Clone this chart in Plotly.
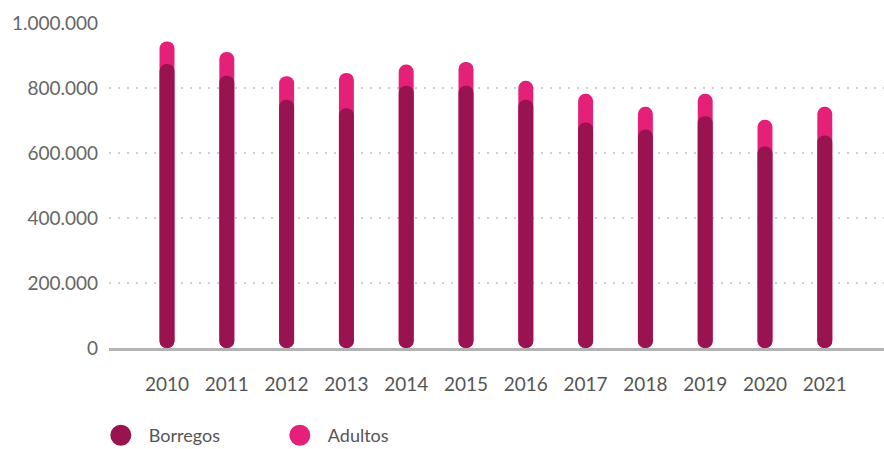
import plotly.graph_objects as go

years = ["2010", "2011", "2012", "2013", "2014", "2015", "2016", "2017", "2018", "2019", "2020", "2021"]
borregos = [874000, 838000, 764000, 738000, 807000, 807000, 764000, 694000, 672000, 713000, 620000, 654000]
adultos = [69000, 73000, 72000, 108000, 65000, 73000, 58000, 88000, 70000, 69000, 82000, 88000]
y_ticks = [0, 200000, 400000, 600000, 800000, 1000000]

DARK = "#98134F"
PINK = "#E52078"
FONT = "Lato"

totals = [b + a for b, a in zip(borregos, adultos)]

fig = go.Figure()
# Adultos: stacked on top of Borregos (full pill drawn behind)
fig.add_trace(go.Bar(x=years, y=totals, base=[0] * len(totals),
                     marker=dict(color=PINK, cornerradius="50%", line=dict(width=0)),
                     width=0.25, showlegend=False, hoverinfo="skip"))
# Borregos: full pill from 0
fig.add_trace(go.Bar(x=years, y=borregos, base=[0] * len(borregos),
                     marker=dict(color=DARK, cornerradius="50%", line=dict(width=0)),
                     width=0.25, showlegend=False, hoverinfo="skip"))

# legend entries
for name, col in [("Borregos", DARK), ("Adultos", PINK)]:
    fig.add_trace(go.Scatter(x=[None], y=[None], mode="markers", name=name,
                             marker=dict(size=16, color=col, symbol="circle",
                                         line=dict(color=col, width=5))))

fig.update_layout(
    width=884, height=449,
    margin=dict(l=109, r=0, t=23, b=101),
    barmode="overlay",
    plot_bgcolor="white", paper_bgcolor="white",
    separators=",.",
    font=dict(family=FONT, color="#555555"),
    legend=dict(orientation="h", xref="container", yref="container",
                x=0.105, y=0.03, xanchor="left", yanchor="middle",
                font=dict(size=18, color="#555555", family=FONT),
                itemwidth=46,
                entrywidth=118, entrywidthmode="pixels",
                bgcolor="rgba(0,0,0,0)"),
)
fig.update_xaxes(type="category", range=[-0.97, 11.99], showgrid=False,
                 showline=True, linecolor="#b3b3b3", linewidth=3,
                 ticks="", ticklabelstandoff=17,
                 tickfont=dict(size=19, color="#555555", family=FONT))
fig.update_yaxes(range=[0, 1000000], tickvals=y_ticks, tickformat=",.0f",
                 showgrid=True, gridcolor="#cfcfcf", gridwidth=2, griddash="2px,7px",
                 zeroline=False, showline=False, ticks="", ticklabelstandoff=10,
                 tickfont=dict(size=19, color="#666666", family=FONT))

fig.write_html("out.html")
